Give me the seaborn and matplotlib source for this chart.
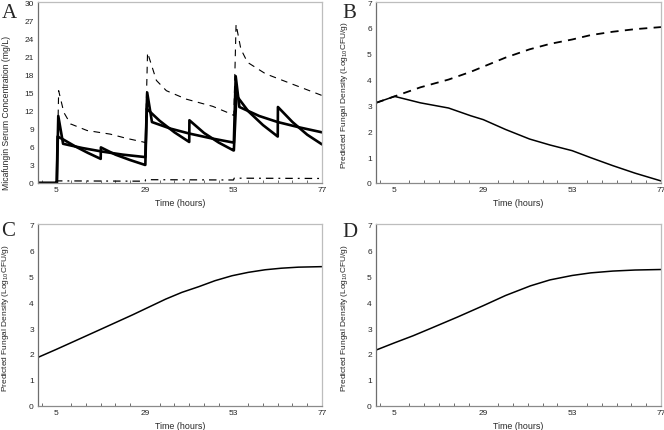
import numpy as np
import pandas as pd
import seaborn as sns
import matplotlib
matplotlib.use("Agg")
import matplotlib.pyplot as plt
from matplotlib.ticker import MultipleLocator, FixedLocator

# --- Panel A: serum concentration (mg/L) ---
# thin dashed (highest dose)
a_high_t = [0, 5, 5.1, 5.6, 7, 8.8, 13.3, 19.6, 24, 28.5, 29, 29.1, 29.7, 30.8, 32.1, 34.8, 40.2, 47.4, 52.5, 53, 53.1, 53.7, 55, 56.8, 61.7, 68.9, 76.6, 77]
a_high_v = [0, 0, 0, 15.3, 11.7, 9.8, 8.7, 8.1, 7.4, 6.8, 6.7, 6.7, 21.6, 19.5, 17.0, 15.3, 13.9, 12.7, 11.4, 11.2, 11.2, 26.3, 22.2, 20.0, 18.1, 16.4, 14.6, 14.5]
# thick solid, once daily (spike then slow decay)
a_q24_t = [0, 5, 5.1, 5.5, 6.8, 12, 17.5, 23, 29, 29.1, 29.6, 30.9, 36, 41, 47, 53, 53.1, 53.6, 54.6, 60, 65, 71, 77]
a_q24_v = [0, 0, 0, 11.1, 6.5, 5.8, 5.2, 4.7, 4.3, 4.3, 15.0, 10.1, 9.0, 8.2, 7.4, 6.7, 6.7, 17.7, 12.6, 11.1, 10.1, 9.2, 8.4]
# thick solid, twice daily (sawtooth)
a_q12_t = [0, 5, 5.1, 5.3, 6.6, 10, 13.5, 17, 17.05, 21, 25, 29, 29.1, 29.5, 33, 37, 41, 41.05, 45, 49, 53, 53.1, 53.8, 57, 61, 65, 65.05, 69, 73, 77]
a_q12_v = [0, 0, 0, 7.7, 7.3, 6.1, 5.0, 4.0, 5.9, 4.7, 3.8, 3.0, 3.0, 12.3, 10.3, 8.4, 6.8, 10.4, 8.3, 6.7, 5.4, 5.4, 14.5, 11.9, 9.6, 7.7, 12.6, 10.1, 8.0, 6.4]
# dash-dot near baseline (lowest dose)
a_low_t = [5, 5.2, 29, 29.2, 53, 53.2, 77]
a_low_v = [0, 0.35, 0.3, 0.55, 0.5, 0.8, 0.75]

# --- Panel B: fungal density (log10 CFU/g) ---
b_t = [0, 5, 12, 19.6, 25.6, 29, 35, 41.5, 47, 53, 58, 64, 70, 77]
b_dash_v = [3.1, 3.35, 3.7, 4.0, 4.3, 4.5, 4.85, 5.17, 5.38, 5.55, 5.72, 5.85, 5.95, 6.03]
b_solid_v = [3.1, 3.35, 3.1, 2.9, 2.6, 2.45, 2.07, 1.7, 1.47, 1.25, 0.98, 0.67, 0.38, 0.08]

# --- Panel C ---
c_t = [0, 5, 10, 16.7, 25.7, 34.6, 39, 43.6, 48, 52.6, 57, 61.6, 66, 70.6, 77]
c_v = [1.87, 2.18, 2.5, 2.93, 3.51, 4.11, 4.37, 4.59, 4.82, 5.01, 5.14, 5.24, 5.30, 5.34, 5.36]

# --- Panel D ---
d_t = [0, 5, 10, 14.7, 22, 29, 35, 41.7, 47, 53, 58, 64, 70, 77]
d_v = [2.15, 2.43, 2.70, 2.98, 3.42, 3.86, 4.25, 4.62, 4.85, 5.02, 5.12, 5.19, 5.23, 5.25]

x_ticks = [5, 29, 53, 77]
time_label = "Time (hours)"
conc_label = "Micafungin Serum Concentration (mg/L)"
dens_label = "Predicted Fungal Density (Log$_{10}$CFU/g)"

sns.set_style("white")
plt.rcParams['font.family'] = ['Liberation Sans', 'DejaVu Sans']
plt.rcParams['mathtext.fontset'] = 'custom'
plt.rcParams['mathtext.rm'] = 'Liberation Sans'
plt.rcParams['mathtext.it'] = 'Liberation Sans'
plt.rcParams['mathtext.default'] = 'regular'

fig = plt.figure(figsize=(6.64, 4.31), dpi=100)
W, H = 664, 431

def make_ax(left, right, top, bottom):
    return fig.add_axes([left / W, 1 - bottom / H, (right - left) / W, (bottom - top) / H])

axA = make_ax(38, 322, 3, 184)
axB = make_ax(376, 661, 3, 184)
axC = make_ax(38, 322, 225, 407)
axD = make_ax(376, 661, 225, 407)

# panel A lines
sns.lineplot(x=a_high_t, y=a_high_v, ax=axA, sort=False, estimator=None, color='black',
             lw=0.8, linestyle=(0, (6, 5)))
sns.lineplot(x=a_q24_t, y=a_q24_v, ax=axA, sort=False, estimator=None, color='black', lw=1.9)
sns.lineplot(x=a_q12_t, y=a_q12_v, ax=axA, sort=False, estimator=None, color='black', lw=1.9)
sns.lineplot(x=a_low_t, y=a_low_v, ax=axA, sort=False, estimator=None, color='black',
             lw=0.9, linestyle=(0, (6, 4, 1.5, 4)))

# panel B lines
sns.lineplot(x=b_t, y=b_dash_v, ax=axB, sort=False, estimator=None, color='black',
             lw=1.3, linestyle=(0, (4.5, 3.5)))
sns.lineplot(x=b_t, y=b_solid_v, ax=axB, sort=False, estimator=None, color='black', lw=1.1)

sns.lineplot(x=c_t, y=c_v, ax=axC, sort=False, estimator=None, color='black', lw=1.1)
sns.lineplot(x=d_t, y=d_v, ax=axD, sort=False, estimator=None, color='black', lw=1.1)

# label placement: (right edge of rotated label in px, vertical centre in axes fraction)
label_pos = {'A': (11.5, 0.39), 'B': (349.5, 0.49), 'C': (11.5, 0.49), 'D': (349.5, 0.49)}
for name, ax in zip("ABCD", [axA, axB, axC, axD]):
    ax.set_xlim(0, 77)
    if ax is axA:
        ax.set_ylim(0, 30)
        ax.yaxis.set_major_locator(MultipleLocator(3))
        ax.set_ylabel(conc_label, fontsize=6.2)
    else:
        ax.set_ylim(0, 7)
        ax.yaxis.set_major_locator(MultipleLocator(1))
        ax.set_ylabel(dens_label, fontsize=6.0)
    pos = ax.get_position()
    px, fy = label_pos[name]
    ax.yaxis.set_label_coords((px - pos.x0 * W) / (pos.width * W), fy)
    ax.xaxis.set_major_locator(FixedLocator(x_ticks))
    ax.xaxis.set_minor_locator(FixedLocator([t for t in range(1, 78, 4) if t not in x_ticks]))
    ax.set_xlabel(time_label, fontsize=6.4, labelpad=3)
    ax.tick_params(axis='both', which='major', direction='in', length=3.5, width=0.6,
                   color='#555555', labelsize=6, pad=3)
    ax.tick_params(axis='x', which='minor', direction='in', length=2.5, width=0.6,
                   color='#555555', bottom=True)
    ax.tick_params(axis='x', which='major', pad=2.5)
    for side in ['top', 'right']:
        ax.spines[side].set_color('#bdbdbd')
        ax.spines[side].set_linewidth(0.9)
    ax.spines['left'].set_color('#6e6e6e')
    ax.spines['bottom'].set_color('#8a8a8a')
    ax.spines['left'].set_linewidth(0.9)
    ax.spines['bottom'].set_linewidth(0.9)

# panel letters
fig.text(1.5 / W, 1 - 17.5 / H, "A", family='Liberation Serif', fontsize=15, va='baseline', ha='left')
fig.text(342 / W, 1 - 17.5 / H, "B", family='Liberation Serif', fontsize=15, va='baseline', ha='left')
fig.text(1.5 / W, 1 - 236.5 / H, "C", family='Liberation Serif', fontsize=15, va='baseline', ha='left')
fig.text(342 / W, 1 - 237 / H, "D", family='Liberation Serif', fontsize=15, va='baseline', ha='left')

fig.savefig("out.png", dpi=100)
